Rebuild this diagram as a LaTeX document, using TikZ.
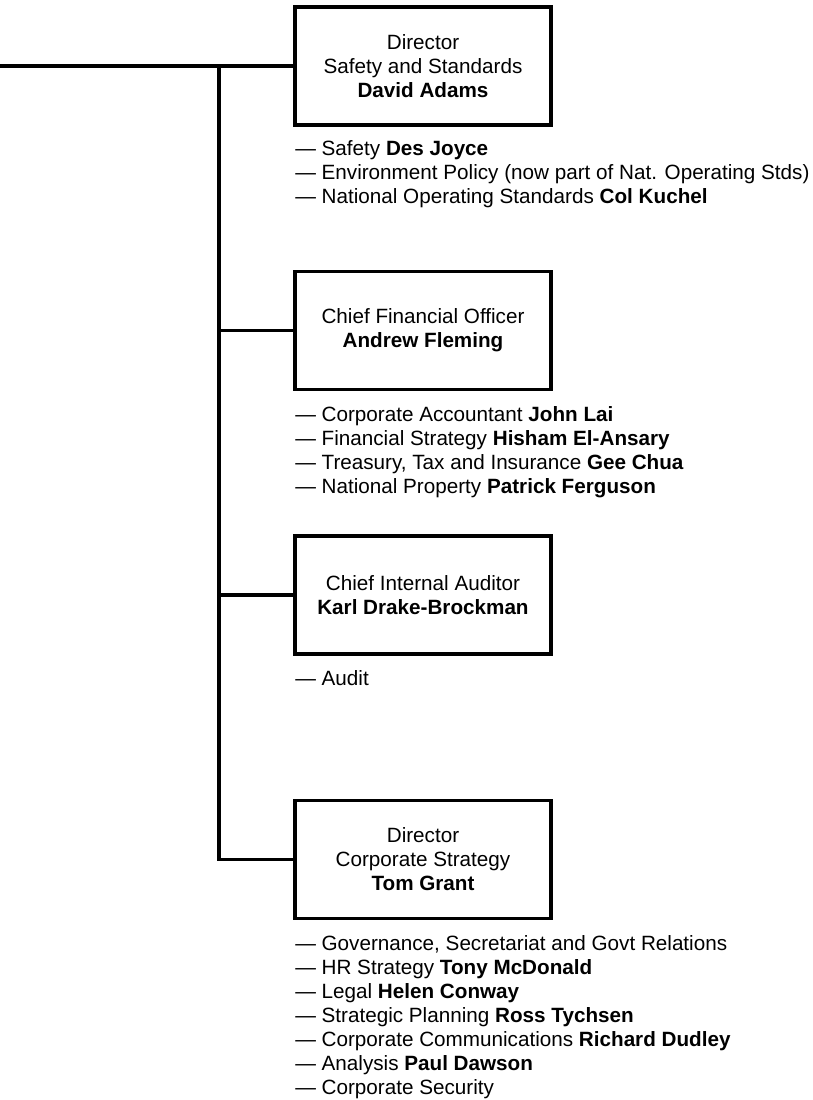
\documentclass[tikz,border=0pt]{standalone}
\usepackage{fontspec}
\setmainfont{Liberation Sans}
\usetikzlibrary{positioning}
\tikzset{
  post/.style={draw, line width=2.4pt, minimum width=192pt, minimum height=88.5pt,
    align=center, inner sep=0pt, font=\fontsize{15.5}{18}\selectfont},
  duties/.style={anchor=north west, align=left, inner sep=0pt,
    font=\fontsize{15.5}{18}\selectfont},
}
\begin{document}
\begin{tikzpicture}[x=0.75pt, y=-0.75pt, link/.style={line width=2.4pt}]
    \useasboundingbox (0,0) rectangle (813,1100);

    \node[post] (safety) at (423,66) {Director\\Safety and Standards\\\textbf{David Adams}};
    \node[post] (finance) at (423,330.5) {Chief Financial Officer\\\textbf{Andrew Fleming}};
    \node[post] (audit) at (423,595) {Chief Internal Auditor\\\textbf{Karl Drake-Brockman}};
    \node[post] (strategy) at (423,859.5) {Director\\Corporate Strategy\\\textbf{Tom Grant}};

    \node[duties] (safety_list) at (295,140) {— Safety \textbf{Des Joyce}\\
      — Environment Policy (now part of Nat. Operating Stds)\\
      — National Operating Standards \textbf{Col Kuchel}};
    \node[duties] (finance_list) at (295,406) {— Corporate Accountant \textbf{John Lai}\\
      — Financial Strategy \textbf{Hisham El-Ansary}\\
      — Treasury, Tax and Insurance \textbf{Gee Chua}\\
      — National Property \textbf{Patrick Ferguson}};
    \node[duties] (audit_list) at (295,670) {— Audit};
    \node[duties] (strategy_list) at (295,935) {— Governance, Secretariat and Govt Relations\\
      — HR Strategy \textbf{Tony McDonald}\\
      — Legal \textbf{Helen Conway}\\
      — Strategic Planning \textbf{Ross Tychsen}\\
      — Corporate Communications \textbf{Richard Dudley}\\
      — Analysis \textbf{Paul Dawson}\\
      — Corporate Security};

    \coordinate (entry) at (0,66);
    \coordinate (spine) at (219,66);
    \draw[link] (entry) -- (safety);
    \draw[link] (spine) |- (strategy);
    \draw[link] (spine |- finance) -- (finance);
    \draw[link] (spine |- audit) -- (audit);
\end{tikzpicture}
\end{document}
